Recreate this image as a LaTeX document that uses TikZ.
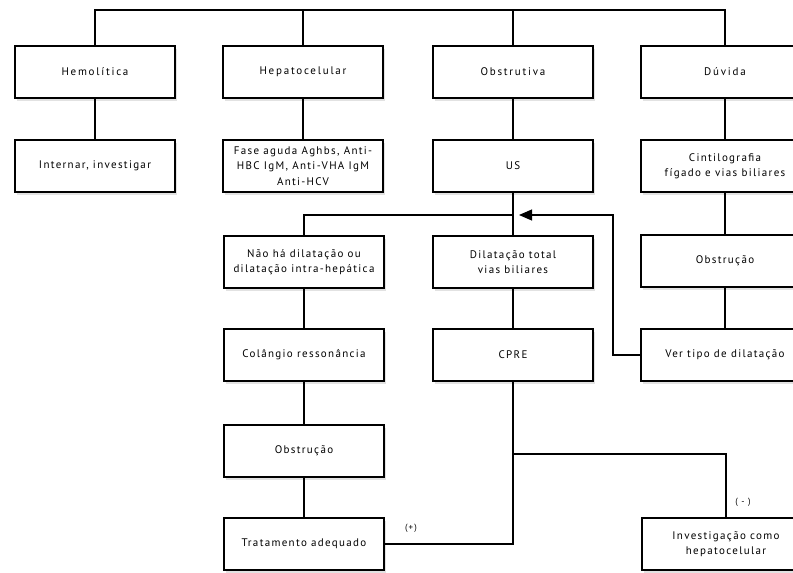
\documentclass[tikz,border=0pt]{standalone}
\usepackage{fontspec}
\setmainfont[LetterSpace=12]{PT Sans}
\usetikzlibrary{arrows.meta,shadows}

\begin{document}
\begin{tikzpicture}[x=1pt,y=-1pt,line width=1.1pt,
    box/.style={draw,fill=white,minimum width=160,minimum height=52,
      align=center,inner sep=2pt,font=\fontsize{11}{15.5}\selectfont,
      drop shadow={fill=gray!45,shadow xshift=2pt,shadow yshift=-3pt}},
    head/.style={font=\fontsize{11}{15.5}\selectfont\addfontfeature{LetterSpace=16}},
    wide/.style={minimum width=168},
    sign/.style={font=\fontsize{9}{10}\selectfont,inner sep=1pt}]

        \clip (0,0) rectangle (793,573);

        \begin{scope}[every node/.style={box}]
          \node[head] (1)  at (95,72)   {Hemolítica};
          \node[head] (2)  at (303,72)  {Hepatocelular};
          \node[head] (3)  at (513,72)  {Obstrutiva};
          \node[head,wide] (4)  at (725,72)  {Dúvida};
          \node (5)  at (95,166)  {Internar, investigar};
          \node (6)  at (303,166) {Fase aguda Aghbs, Anti-\\HBC IgM, Anti-VHA IgM\\Anti-HCV};
          \node (7)  at (513,166) {US};
          \node[wide] (8)  at (725,166) {Cintilografia\\fígado e vias biliares};
          \node (9)  at (304,262) {Não há dilatação ou\\dilatação intra-hepática};
          \node (10) at (513,262) {Dilatação total\\vias biliares};
          \node[wide] (11) at (725,261) {Obstrução};
          \node (12) at (304,355) {Colângio ressonância};
          \node (13) at (513,355) {CPRE};
          \node[wide] (14) at (725,355) {Ver tipo de dilatação};
          \node (15) at (304,451) {Obstrução};
          \node (16) at (304,544) {Tratamento adequado};
          \node[wide] (17) at (726,544) {Investigação como\\hepatocelular};
        \end{scope}

        % junction points
        \coordinate (t) at (0,10);
        \coordinate (b) at (0,215);
        \coordinate (k) at (613,215);
        \coordinate (a) at (519,215);
        \coordinate (c) at (513,454);

        \draw (1.north) -- (1.north |- t) -- (4.north |- t) -- (4.north);
        \draw (2.north) -- (2.north |- t);
        \draw (3.north) -- (3.north |- t);

        \path (1)  edge (5);
        \path (2)  edge (6);
        \path (3)  edge (7);
        \path (4)  edge (8);
        \path (7)  edge (10);
        \path (8)  edge (11);
        \path (11) edge (14);
        \path (9)  edge (12);
        \path (10) edge (13);
        \path (12) edge (15);
        \path (15) edge (16);

        \draw (9.north) -- (9.north |- b) -- (7.south |- b);
        \draw[-{Triangle[length=13,width=11]}] (14.west) -| (k) -- (a);
        \draw (13.south) |- (16.east);
        \draw (c) -| (17.north);

        \node[sign] (p) at (411,528) {(+)};
        \node[sign] (m) at (743,502) {( - )};

      \end{tikzpicture}
\end{document}
